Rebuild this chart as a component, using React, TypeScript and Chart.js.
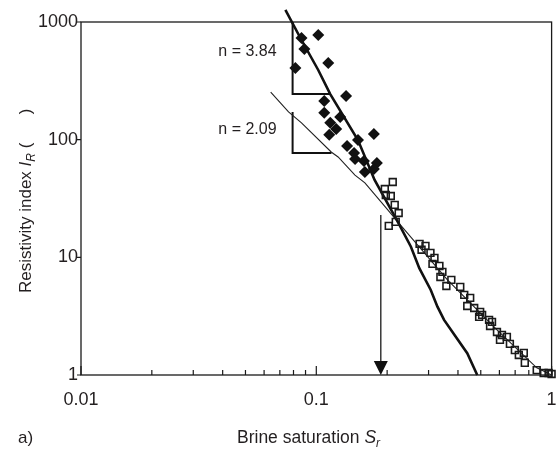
import React, { useEffect, useRef } from 'react';
import { Chart, registerables } from 'chart.js';

Chart.register(...registerables);

// ---- axis ticks ----
const xTickValues = [0.01, 0.1, 1];
const yTickValues = [1, 10, 100, 1000];

// ---- measured data (filled diamonds) ----
const diamondS = [0.1019, 0.089, 0.0815, 0.1124, 0.1338, 0.1081, 0.1081, 0.1263, 0.1146, 0.1215, 0.1135, 0.1757, 0.1504, 0.1351, 0.1447, 0.1461, 0.1594, 0.1809, 0.1609, 0.1757, 0.0865];
const diamondIR = [776, 590, 406, 449, 235, 213, 169, 156, 139, 123, 110, 112, 99.4, 88.4, 77.1, 68.5, 65.9, 63.4, 53.2, 56.4, 731];

// ---- measured data (open squares) ----
const squareS = [0.2113, 0.1955, 0.1974, 0.2073, 0.2154, 0.2239, 0.2032, 0.2176, 0.2747, 0.2911, 0.2801, 0.3056, 0.3178, 0.3117, 0.3336, 0.3435, 0.3368, 0.3749, 0.3571, 0.4091, 0.4253, 0.4508, 0.438, 0.4688, 0.497, 0.492, 0.5423, 0.5476, 0.5859, 0.6152, 0.6457, 0.6034, 0.6649, 0.698, 0.7619, 0.7256, 0.7693, 0.8644, 0.9252, 0.9712, 1.0, 0.5066, 0.5582];
const squareIR = [43.7, 38.1, 33.9, 33.2, 27.9, 23.8, 18.5, 20.0, 13.0, 12.5, 11.6, 10.9, 9.88, 8.79, 8.45, 7.52, 6.81, 6.43, 5.71, 5.61, 4.8, 4.52, 3.86, 3.71, 3.44, 3.12, 2.94, 2.61, 2.32, 2.19, 2.11, 1.99, 1.84, 1.63, 1.54, 1.48, 1.27, 1.1, 1.04, 1.04, 1.02, 3.24, 2.83];

// ---- steep fitted curve (n = 3.84) ----
const steepS = [0.0739, 0.0865, 0.1019, 0.1146, 0.1503, 0.1769, 0.222, 0.2524, 0.274, 0.3065, 0.3272, 0.3491, 0.3908, 0.438, 0.483];
const steepIR = [1265, 703, 391, 244, 99.4, 45.5, 20.0, 12.3, 8.08, 5.28, 3.81, 2.94, 2.12, 1.53, 1];

// ---- shallow fitted curve (n = 2.09) ----
const shallowS = [0.064, 0.0762, 0.0865, 0.1157, 0.1238, 0.146, 0.1609, 0.2013, 0.222, 0.361, 0.586, 0.865, 1];
const shallowIR = [254, 172, 139, 78.6, 71.3, 50, 42.9, 25.3, 20, 6.43, 2.42, 1.15, 1];

// ---- slope triangles (legs) ----
const tri1S = [0.0793, 0.0793, 0.1146];
const tri1IR = [1000, 244, 244];
const tri2S = [0.0793, 0.0793, 0.116];
const tri2IR = [172, 77.1, 77.1];

// ---- labels ----
const nLabelText = ['n = 3.84', 'n = 2.09'];
const nLabelS = [0.0793, 0.0793];
const nLabelIR = [556, 121];

// ---- arrow ----
const arrowS = 0.188;
const arrowTopIR = 22.9;
const arrowBottomIR = 1;

const FONT = '"Liberation Sans", Arial, Helvetica, sans-serif';
const TEXT = '#231f20';

const pts = (xs: number[], ys: number[]) => xs.map((x, i) => ({ x, y: ys[i] }));

export default function App() {
  const ref = useRef<HTMLCanvasElement>(null);

  useEffect(() => {
    const canvas = ref.current!;

    const drawRich = (ctx: CanvasRenderingContext2D, segs: { t: string; f: string; dy: number }[], x: number, y: number) => {
      let cx = x;
      for (const s of segs) {
        ctx.font = s.f;
        ctx.fillText(s.t, cx, y + s.dy);
        cx += ctx.measureText(s.t).width;
      }
    };

    const overlay = {
      id: 'overlay',
      beforeDatasetsDraw(chart: any) {
        const { ctx, chartArea: a, scales } = chart;
        const xs = scales.x;
        const ys = scales.y;
        ctx.save();
        ctx.strokeStyle = '#1a1a1a';
        ctx.lineWidth = 1.3;
        ctx.strokeRect(a.left, a.top, a.right - a.left, a.bottom - a.top);
        // x ticks inside
        ctx.lineWidth = 1.2;
        ctx.beginPath();
        for (const d of [0.01, 0.1]) {
          for (let m = 1; m <= 10; m++) {
            const v = d * m;
            const px = xs.getPixelForValue(v);
            const len = m === 1 || m === 10 ? 9 : 5;
            ctx.moveTo(px, a.bottom);
            ctx.lineTo(px, a.bottom - len);
          }
        }
        // y ticks outside
        for (const v of yTickValues) {
          const py = ys.getPixelForValue(v);
          ctx.moveTo(a.left, py);
          ctx.lineTo(a.left - 4, py);
        }
        ctx.stroke();
        ctx.restore();
      },
      afterDraw(chart: any) {
        const { ctx, scales } = chart;
        const xs = scales.x;
        const ys = scales.y;
        ctx.save();
        ctx.fillStyle = TEXT;
        // n labels
        ctx.font = `16px ${FONT}`;
        ctx.textAlign = 'right';
        ctx.textBaseline = 'middle';
        nLabelText.forEach((t, i) => {
          ctx.fillText(t, xs.getPixelForValue(nLabelS[i]) - 16, ys.getPixelForValue(nLabelIR[i]));
        });
        // arrow
        const ax = xs.getPixelForValue(arrowS);
        const ay0 = ys.getPixelForValue(arrowTopIR);
        const ay1 = ys.getPixelForValue(arrowBottomIR);
        ctx.strokeStyle = '#1a1a1a';
        ctx.lineWidth = 1.3;
        ctx.beginPath();
        ctx.moveTo(ax, ay0);
        ctx.lineTo(ax, ay1 - 12);
        ctx.stroke();
        ctx.fillStyle = '#111';
        ctx.beginPath();
        ctx.moveTo(ax, ay1);
        ctx.lineTo(ax - 7, ay1 - 14);
        ctx.lineTo(ax + 7, ay1 - 14);
        ctx.closePath();
        ctx.fill();
        // titles
        ctx.fillStyle = TEXT;
        ctx.textAlign = 'left';
        ctx.textBaseline = 'alphabetic';
        drawRich(ctx, [
          { t: 'Brine saturation ', f: `17.5px ${FONT}`, dy: 0 },
          { t: 'S', f: `italic 17.5px ${FONT}`, dy: 0 },
          { t: 'r', f: `italic 12px ${FONT}`, dy: 4 },
        ], 237, 443);
        ctx.font = `17px ${FONT}`;
        ctx.fillText('a)', 18, 443);
        ctx.save();
        ctx.translate(31, 293);
        ctx.rotate(-Math.PI / 2);
        drawRich(ctx, [
          { t: 'Resistivity index ', f: `17px ${FONT}`, dy: 0 },
          { t: 'I', f: `italic 17px ${FONT}`, dy: 0 },
          { t: 'R', f: `italic 12px ${FONT}`, dy: 4 },
          { t: ' (      )', f: `17px ${FONT}`, dy: 0 },
        ], 0, 0);
        ctx.restore();
        ctx.restore();
      },
    };

    const chart = new Chart(canvas, {
      type: 'scatter',
      data: {
        datasets: [
          {
            data: pts(diamondS, diamondIR),
            pointStyle: 'rectRot',
            pointRadius: 6,
            backgroundColor: '#111',
            borderColor: '#111',
            borderWidth: 0,
            showLine: false,
          },
          {
            data: pts(squareS, squareIR),
            pointStyle: 'rect',
            pointRadius: 4.8,
            backgroundColor: 'rgba(255,255,255,0)',
            borderColor: '#1a1a1a',
            borderWidth: 1.6,
            showLine: false,
            clip: 8,
          },
          {
            data: pts(steepS, steepIR),
            showLine: true,
            borderColor: '#111',
            borderWidth: 2.6,
            pointRadius: 0,
            tension: 0,
            clip: 14,
          },
          {
            data: pts(shallowS, shallowIR),
            showLine: true,
            borderColor: '#222',
            borderWidth: 1.1,
            pointRadius: 0,
            tension: 0,
          },
          {
            data: pts(tri1S, tri1IR),
            showLine: true,
            borderColor: '#111',
            borderWidth: 2,
            pointRadius: 0,
          },
          {
            data: pts(tri2S, tri2IR),
            showLine: true,
            borderColor: '#111',
            borderWidth: 2,
            pointRadius: 0,
          },
        ],
      },
      options: {
        responsive: false,
        animation: false,
        events: [],
        layout: { padding: { top: 22, right: 3, left: 0, bottom: 0 } },
        plugins: { legend: { display: false }, tooltip: { enabled: false } },
        scales: {
          x: {
            type: 'logarithmic',
            min: 0.01,
            max: 1,
            grid: { display: false, drawTicks: false, tickLength: 0 },
            border: { display: false },
            afterBuildTicks: (s: any) => {
              s.ticks = xTickValues.map((v) => ({ value: v }));
            },
            afterFit: (s: any) => {
              s.height = 76;
              s.paddingLeft = 0;
              s.paddingRight = 0;
            },
            ticks: {
              autoSkip: false,
              maxRotation: 0,
              padding: 14,
              color: TEXT,
              font: { family: FONT, size: 18 },
              callback: (v: any) => String(v),
            },
          },
          y: {
            type: 'logarithmic',
            min: 1,
            max: 1000,
            grid: { display: false, drawTicks: false, tickLength: 0 },
            border: { display: false },
            afterBuildTicks: (s: any) => {
              s.ticks = yTickValues.map((v) => ({ value: v }));
            },
            afterFit: (s: any) => {
              s.width = 81;
              s.paddingTop = 0;
              s.paddingBottom = 0;
            },
            ticks: {
              autoSkip: false,
              padding: 3,
              color: TEXT,
              font: { family: FONT, size: 18 },
              callback: (v: any) => String(v),
            },
          },
        },
      },
      plugins: [overlay],
    } as any);

    return () => chart.destroy();
  }, []);

  return (
    <div style={{ position: 'fixed', left: 0, top: 0, width: 558, height: 451, background: '#fff' }}>
      <canvas ref={ref} width={558} height={451} style={{ display: 'block' }} />
    </div>
  );
}
